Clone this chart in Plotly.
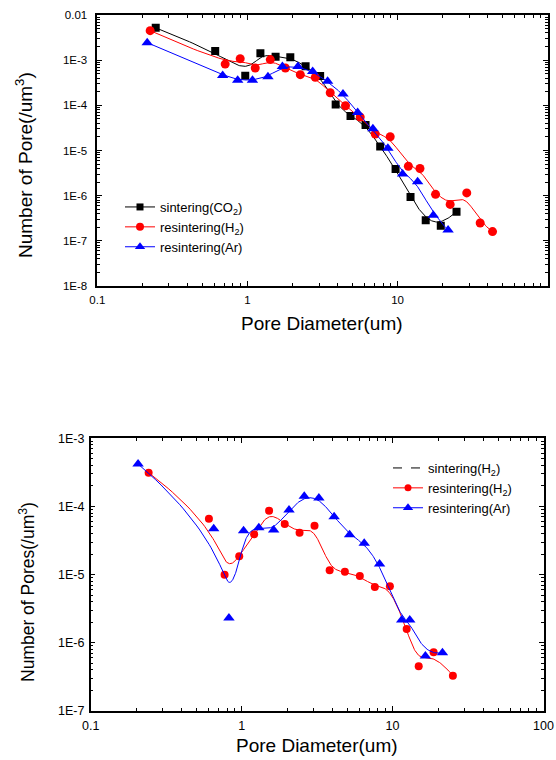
import numpy as np
import plotly.graph_objects as go

# ---------------- data: top chart ----------------
top_co2_x = [0.245, 0.61, 0.967, 1.22, 1.54, 1.93, 2.44, 3.05, 3.87, 4.86, 6.12, 7.66, 9.7, 12.2, 15.4, 19.4, 24.7]
top_co2_y = [5.2e-3, 1.6e-3, 4.5e-4, 1.42e-3, 1.19e-3, 1.16e-3, 7.3e-4, 4.47e-4, 1.05e-4, 5.8e-5, 3.67e-5, 1.22e-5, 3.9e-6, 9.4e-7, 2.85e-7, 2.17e-7, 4.4e-7]

top_h2_x = [0.225, 0.711, 0.895, 1.127, 1.42, 1.79, 2.25, 2.83, 3.56, 4.5, 5.64, 7.1, 8.93, 11.8, 14.1, 17.9, 22.4, 28.9, 35.5, 42.9]
top_h2_y = [4.5e-3, 8.2e-4, 1.08e-3, 6.7e-4, 1.03e-3, 6.7e-4, 4.78e-4, 4.17e-4, 1.9e-4, 9.8e-5, 5.5e-5, 2.32e-5, 2.02e-5, 4.47e-6, 4.0e-6, 1.07e-6, 6.4e-7, 1.15e-6, 2.48e-7, 1.6e-7]

top_ar_x = [0.215, 0.684, 0.861, 1.08, 1.37, 1.71, 2.17, 2.72, 3.42, 4.33, 5.42, 6.85, 8.62, 10.8, 13.6, 17.3, 21.7]
top_ar_y = [2.44e-3, 4.6e-4, 3.6e-4, 3.6e-4, 4.3e-4, 7.2e-4, 7.2e-4, 5.6e-4, 3.4e-4, 1.78e-4, 6.9e-5, 3.04e-5, 1.12e-5, 3.0e-6, 2.04e-6, 3.7e-7, 1.74e-7]

# ---------------- data: bottom chart ----------------
bot_h2_x = [0.242, 0.607, 0.771, 0.964, 1.21, 1.52, 1.93, 2.42, 3.04, 3.83, 4.83, 6.07, 7.63, 9.6, 12.4, 14.9, 18.7, 25.1]
bot_h2_y = [3.13e-4, 6.6e-5, 9.9e-6, 1.85e-5, 3.9e-5, 8.65e-5, 5.5e-5, 4.1e-5, 5.2e-5, 1.15e-5, 1.1e-5, 9.5e-6, 6.55e-6, 6.7e-6, 1.58e-6, 4.5e-7, 7.2e-7, 3.27e-7]

bot_ar_x = [0.206, 0.653, 0.824, 1.03, 1.30, 1.63, 2.06, 2.6, 3.25, 4.1, 5.19, 6.49, 8.2, 11.5, 13.0, 16.5, 21.4]
bot_ar_y = [4.2e-4, 4.7e-5, 2.3e-6, 4.4e-5, 4.87e-5, 4.5e-5, 8.85e-5, 1.41e-4, 1.33e-4, 7.06e-5, 3.85e-5, 2.87e-5, 1.43e-5, 2.15e-6, 2.15e-6, 6.35e-7, 7.1e-7]

# tick labels
x_tickvals = [0.1, 1, 10, 100]
x_ticktext = ["0.1", "1", "10", "100"]
top_y_tickvals = [1e-8, 1e-7, 1e-6, 1e-5, 1e-4, 1e-3, 1e-2]
top_y_ticktext = ["1E-8", "1E-7", "1E-6", "1E-5", "1E-4", "1E-3", "0.01"]
bot_y_tickvals = [1e-7, 1e-6, 1e-5, 1e-4, 1e-3]
bot_y_ticktext = ["1E-7", "1E-6", "1E-5", "1E-4", "1E-3"]

FONT = "Arial, Liberation Sans, sans-serif"


def bspline(xs, ys, n=500):
    """Clamped uniform cubic B-spline through control points in log-log space
    (mimics Origin's B-spline connection)."""
    P = np.column_stack([np.log10(xs), np.log10(ys)])
    m = len(P)
    k = 3
    knots = np.concatenate([np.zeros(k), np.linspace(0, 1, m - k + 1), np.ones(k)])
    t = np.linspace(0, 1, n)
    N = np.zeros((n, len(knots) - 1))
    for i in range(len(knots) - 1):
        N[:, i] = (t >= knots[i]) & (t < knots[i + 1])
    for d in range(1, k + 1):
        Nn = np.zeros((n, len(knots) - 1 - d))
        for i in range(len(knots) - 1 - d):
            a = knots[i + d] - knots[i]
            b = knots[i + d + 1] - knots[i + 1]
            term = np.zeros(n)
            if a > 0:
                term += (t - knots[i]) / a * N[:, i]
            if b > 0:
                term += (knots[i + d + 1] - t) / b * N[:, i + 1]
            Nn[:, i] = term
        N = Nn
    N[-1, :] = 0
    N[-1, m - 1] = 1
    C = N @ P
    return 10 ** C[:, 0], 10 ** C[:, 1]


fig = go.Figure()

BLACK, RED, BLUE = "#000000", "#ff0000", "#0000ff"


def add_series(xs, ys, color, symbol, size, xa, ya, name, legend):
    cx, cy = bspline(xs, ys)
    fig.add_trace(go.Scatter(x=cx, y=cy, mode="lines", line=dict(color=color, width=1),
                             xaxis=xa, yaxis=ya, showlegend=False, hoverinfo="skip"))
    fig.add_trace(go.Scatter(x=xs, y=ys, mode="markers",
                             marker=dict(color=color, symbol=symbol, size=size, line=dict(width=0)),
                             xaxis=xa, yaxis=ya, showlegend=False))
    fig.add_trace(go.Scatter(x=[None], y=[None], mode="lines+markers", name=name,
                             line=dict(color=color, width=1),
                             marker=dict(color=color, symbol=symbol, size=size - 1, line=dict(width=0)),
                             xaxis=xa, yaxis=ya, legend=legend))


# top chart
add_series(top_co2_x, top_co2_y, BLACK, "square", 8, "x", "y", "sintering(CO<sub>2</sub>)", "legend")
add_series(top_h2_x, top_h2_y, RED, "circle", 9, "x", "y", "resintering(H<sub>2</sub>)", "legend")
add_series(top_ar_x, top_ar_y, BLUE, "triangle-up", 10, "x", "y", "resintering(Ar)", "legend")

# bottom chart
fig.add_trace(go.Scatter(x=[None], y=[None], mode="lines", name="sintering(H<sub>2</sub>)",
                         line=dict(color=BLACK, width=1, dash="dash"),
                         xaxis="x2", yaxis="y2", legend="legend2"))
add_series(bot_h2_x, bot_h2_y, RED, "circle", 8, "x2", "y2", "resintering(H<sub>2</sub>)", "legend2")
add_series(bot_ar_x, bot_ar_y, BLUE, "triangle-up", 10, "x2", "y2", "resintering(Ar)", "legend2")

W, H = 556, 760


def px_x(p):
    return p / W


def px_y(p):
    return 1 - p / H


def axis_style(fs, standoff):
    return dict(
        type="log", showline=True, linecolor="black", linewidth=1.5, mirror="allticks",
        ticks="inside", ticklen=5, tickwidth=1, tickcolor="black", showgrid=False, zeroline=False,
        automargin=False, ticklabelstandoff=standoff,
        tickfont=dict(family=FONT, size=fs, color="black"),
        minor=dict(ticks="inside", ticklen=3, tickwidth=1, tickcolor="black", dtick="D1", showgrid=False),
    )


def title(text, x, y, size, angle=0):
    return dict(text=text, x=px_x(x), y=px_y(y), xref="paper", yref="paper",
                xanchor="center", yanchor="middle", showarrow=False, textangle=angle,
                font=dict(family=FONT, size=size, color="black"))


fig.update_layout(
    width=W, height=H, margin=dict(l=0, r=0, t=0, b=0, autoexpand=False),
    paper_bgcolor="white", plot_bgcolor="white",
    font=dict(family=FONT, color="black"),
    xaxis=dict(axis_style(11.5, 2), domain=[px_x(97.3), px_x(547.7)], anchor="y",
               range=[-1, 2], tickvals=x_tickvals, ticktext=x_ticktext),
    yaxis=dict(axis_style(11.5, 6), domain=[px_y(286), px_y(15)], anchor="x",
               range=[-8, -2], tickvals=top_y_tickvals, ticktext=top_y_ticktext),
    xaxis2=dict(axis_style(12.5, 3), domain=[px_x(90.7), px_x(543.5)], anchor="y2",
                range=[-1, 2], tickvals=x_tickvals, ticktext=x_ticktext),
    yaxis2=dict(axis_style(12.5, 2), domain=[px_y(710.7), px_y(438.3)], anchor="x2",
                range=[-7, -3], tickvals=bot_y_tickvals, ticktext=bot_y_ticktext),
    legend=dict(x=px_x(120), y=px_y(192), xanchor="left", yanchor="top",
                bgcolor="rgba(0,0,0,0)", font=dict(family=FONT, size=13, color="black"),
                tracegroupgap=0, itemwidth=30),
    legend2=dict(x=px_x(388), y=px_y(453), xanchor="left", yanchor="top",
                 bgcolor="rgba(0,0,0,0)", font=dict(family=FONT, size=13, color="black"),
                 tracegroupgap=0, itemwidth=30),
    annotations=[
        title("Pore Diameter(um)", 322, 323, 19),
        title("Number of Pore(/um<sup>3</sup>)", 24, 165, 19, -90),
        title("Pore Diameter(um)", 317, 745, 19),
        title("Number of Pores(/um<sup>3</sup>)", 27, 592, 17.5, -90),
    ],
)

fig.write_html("out.html", config={"displayModeBar": False},
               post_script="document.body.style.margin='0px';document.body.style.overflow='hidden';")
